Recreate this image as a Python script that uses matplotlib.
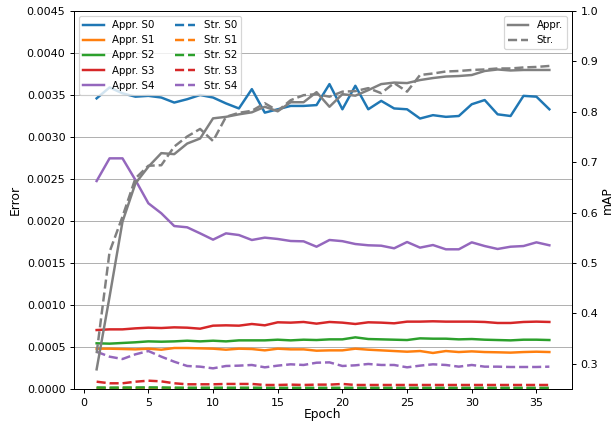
import matplotlib
matplotlib.use("Agg")
from matplotlib import pyplot as plt

epochs = list(range(1, 37))

# error per scale, appearance branch
appr_s0 = [0.00346, 0.00359, 0.00352, 0.00348, 0.00349, 0.00347, 0.00341, 0.00345, 0.00350, 0.00347,
           0.00340, 0.00334, 0.00357, 0.00329, 0.00333, 0.00337, 0.00337, 0.00338, 0.00363, 0.00333,
           0.00361, 0.00333, 0.00343, 0.00334, 0.00333, 0.00322, 0.00326, 0.00324, 0.00325, 0.00339,
           0.00344, 0.00327, 0.00325, 0.00349, 0.00348, 0.00333]
appr_s1 = [0.000480, 0.000480, 0.000476, 0.000472, 0.000480, 0.000468, 0.000488, 0.000488, 0.000484, 0.000480,
           0.000468, 0.000480, 0.000476, 0.000460, 0.000480, 0.000472, 0.000472, 0.000456, 0.000460, 0.000460,
           0.000480, 0.000468, 0.000460, 0.000452, 0.000444, 0.000452, 0.000429, 0.000452, 0.000440, 0.000448,
           0.000440, 0.000437, 0.000433, 0.000440, 0.000444, 0.000440]
appr_s2 = [0.000544, 0.000540, 0.000548, 0.000556, 0.000567, 0.000563, 0.000567, 0.000575, 0.000567, 0.000575,
           0.000567, 0.000579, 0.000579, 0.000579, 0.000587, 0.000579, 0.000587, 0.000583, 0.000591, 0.000591,
           0.000615, 0.000595, 0.000591, 0.000587, 0.000583, 0.000603, 0.000599, 0.000599, 0.000591, 0.000595,
           0.000587, 0.000583, 0.000579, 0.000587, 0.000587, 0.000583]
appr_s3 = [0.000702, 0.000710, 0.000710, 0.000722, 0.000730, 0.000726, 0.000734, 0.000730, 0.000718, 0.000754,
           0.000758, 0.000754, 0.000774, 0.000758, 0.000794, 0.000790, 0.000798, 0.000778, 0.000798, 0.000790,
           0.000774, 0.000794, 0.000790, 0.000782, 0.000802, 0.000802, 0.000806, 0.000802, 0.000802, 0.000802,
           0.000798, 0.000786, 0.000786, 0.000798, 0.000802, 0.000798]
appr_s4 = [0.002476, 0.002746, 0.002746, 0.002488, 0.002211, 0.002092, 0.001940, 0.001925, 0.001853, 0.001778,
           0.001853, 0.001833, 0.001774, 0.001802, 0.001786, 0.001762, 0.001758, 0.001694, 0.001774, 0.001760,
           0.001726, 0.001711, 0.001706, 0.001675, 0.001750, 0.001683, 0.001714, 0.001663, 0.001663, 0.001746,
           0.001702, 0.001667, 0.001694, 0.001702, 0.001746, 0.001711]

# error per scale, structure branch
str_s0 = [0.000010, 0.000010, 0.000011, 0.000010, 0.000010, 0.000010, 0.000009, 0.000009, 0.000009, 0.000009,
          0.000009, 0.000009, 0.000009, 0.000009, 0.000008, 0.000008, 0.000008, 0.000008, 0.000008, 0.000008,
          0.000008, 0.000008, 0.000008, 0.000008, 0.000008, 0.000008, 0.000008, 0.000008, 0.000008, 0.000008,
          0.000008, 0.000008, 0.000008, 0.000008, 0.000008, 0.000008]
str_s1 = [0.000013, 0.000012, 0.000013, 0.000012, 0.000012, 0.000012, 0.000011, 0.000011, 0.000011, 0.000011,
          0.000011, 0.000011, 0.000011, 0.000011, 0.000010, 0.000010, 0.000010, 0.000010, 0.000010, 0.000010,
          0.000010, 0.000010, 0.000010, 0.000010, 0.000010, 0.000010, 0.000010, 0.000010, 0.000010, 0.000010,
          0.000010, 0.000010, 0.000010, 0.000010, 0.000010, 0.000010]
str_s2 = [0.000018, 0.000016, 0.000017, 0.000018, 0.000019, 0.000018, 0.000016, 0.000015, 0.000015, 0.000015,
          0.000015, 0.000015, 0.000015, 0.000014, 0.000014, 0.000014, 0.000014, 0.000014, 0.000014, 0.000014,
          0.000014, 0.000014, 0.000014, 0.000014, 0.000014, 0.000014, 0.000014, 0.000014, 0.000014, 0.000014,
          0.000014, 0.000014, 0.000014, 0.000014, 0.000014, 0.000014]
str_s3 = [0.000087, 0.000068, 0.000068, 0.000087, 0.000099, 0.000091, 0.000068, 0.000056, 0.000056, 0.000056,
          0.000060, 0.000060, 0.000060, 0.000048, 0.000048, 0.000052, 0.000048, 0.000052, 0.000052, 0.000060,
          0.000048, 0.000048, 0.000048, 0.000048, 0.000048, 0.000048, 0.000048, 0.000048, 0.000048, 0.000048,
          0.000048, 0.000048, 0.000048, 0.000048, 0.000048, 0.000048]
str_s4 = [0.000444, 0.000385, 0.000357, 0.000413, 0.000452, 0.000385, 0.000325, 0.000274, 0.000266, 0.000246,
          0.000274, 0.000278, 0.000286, 0.000258, 0.000278, 0.000294, 0.000286, 0.000313, 0.000317, 0.000274,
          0.000282, 0.000298, 0.000286, 0.000286, 0.000258, 0.000278, 0.000294, 0.000286, 0.000266, 0.000286,
          0.000266, 0.000266, 0.000262, 0.000262, 0.000262, 0.000266]

# mAP
map_appr = [0.289, 0.433, 0.582, 0.658, 0.691, 0.718, 0.716, 0.737, 0.747, 0.787,
            0.790, 0.795, 0.799, 0.810, 0.801, 0.819, 0.819, 0.839, 0.810, 0.835,
            0.832, 0.843, 0.855, 0.858, 0.857, 0.863, 0.867, 0.870, 0.871, 0.873,
            0.881, 0.884, 0.882, 0.883, 0.883, 0.883]
map_str = [0.321, 0.522, 0.592, 0.668, 0.693, 0.694, 0.731, 0.751, 0.766, 0.742,
           0.790, 0.798, 0.802, 0.817, 0.802, 0.823, 0.833, 0.835, 0.830, 0.840,
           0.841, 0.847, 0.837, 0.857, 0.840, 0.873, 0.876, 0.880, 0.881, 0.883,
           0.884, 0.886, 0.886, 0.888, 0.889, 0.891]

appr = [appr_s0, appr_s1, appr_s2, appr_s3, appr_s4]
strc = [str_s0, str_s1, str_s2, str_s3, str_s4]

plt.rcParams['xtick.labelsize'] = 9
plt.rcParams['ytick.labelsize'] = 9

fig = plt.figure(figsize=(614 / 88.5, 425 / 88.5), dpi=88.5)
ax = fig.add_axes([0.1205, 0.0847, 0.8111, 0.8894])

for i, ys in enumerate(appr):
    ax.plot(epochs, ys, color='C%d' % i, lw=2, label='Appr. S%d' % i)
for i, ys in enumerate(strc):
    ax.plot(epochs, ys, '--', color='C%d' % i, lw=2, label='Str. S%d' % i)

ax.set_ylim(0, 0.0045)
ax.set_yticks([i * 0.0005 for i in range(10)])
ax.set_xlabel('Epoch')
ax.xaxis.set_label_coords(0.5, -0.05)
ax.set_ylabel('Error')
ax.grid(axis='y')
ax.legend(loc='upper left', ncol=2, fontsize='small')

ax2 = ax.twinx()
ax2.plot(epochs, map_appr, color='gray', lw=2, label='Appr.')
ax2.plot(epochs, map_str, '--', color='gray', lw=2, label='Str.')
ax2.set_ylim(0.25, 1.0)
ax2.set_ylabel('mAP')
ax2.yaxis.set_label_coords(1.058, 0.5)
ax2.legend(loc='upper right', fontsize='small')

fig.savefig('out.png', dpi=88.5)
